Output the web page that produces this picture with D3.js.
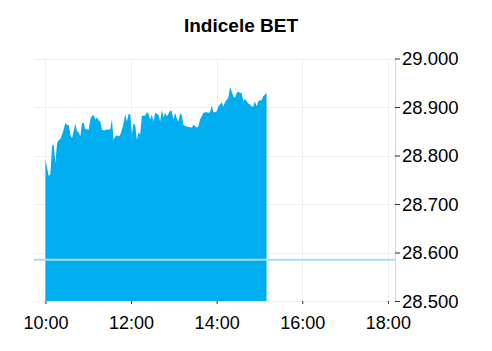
<!DOCTYPE html>
<html><head><meta charset="utf-8">
<script src="https://cdn.jsdelivr.net/npm/d3@7"></script>
<style>html,body{margin:0;padding:0;background:#fff;}svg{display:block;font-family:"Liberation Sans",Arial,sans-serif;}</style>
</head><body><svg id="c" width="492" height="351"></svg>
<script>
const title = "Indicele BET";
const startTime = "10:00";
const endTime = "15:10";
const values = [28792,28775,28757,28763,28820,28822,28784,28826,28832,28834,28843,28854,28867,28863,28863,28843,28836,28850,28866,28850,28848,28839,28867,28867,28854,28854,28853,28874,28882,28883,28874,28879,28872,28870,28853,28852,28852,28854,28853,28854,28874,28832,28839,28842,28839,28843,28853,28867,28885,28870,28885,28886,28843,28866,28863,28832,28848,28843,28882,28882,28882,28889,28886,28874,28884,28870,28888,28886,28884,28870,28894,28879,28888,28881,28886,28893,28891,28874,28888,28877,28870,28886,28884,28863,28861,28860,28859,28859,28857,28863,28861,28857,28861,28874,28881,28888,28889,28889,28888,28889,28903,28889,28889,28891,28901,28905,28910,28901,28910,28915,28919,28941,28932,28922,28919,28929,28932,28929,28929,28912,28917,28912,28907,28905,28901,28901,28912,28901,28912,28914,28914,28922,28926,28929];
const previousClose = 28585;
const yTicks = [28500,28600,28700,28800,28900,29000];
const xTickLabels = ["10:00","12:00","14:00","16:00","18:00"];
const xDomain = ["09:44","18:10"];

const parse = d3.timeParse("%H:%M");
const t0 = parse(startTime), t1 = parse(endTime);
const n = values.length;
const data = values.map((v,i)=>({t:new Date(+t0 + (t1-t0)*i/(n-1)), v}));

const svg = d3.select("#c");
const L=34, R=395, T=58.5, B=301;
const x = d3.scaleTime().domain(xDomain.map(parse)).range([L,R]);
const y = d3.scaleLinear().domain([28500,29000]).range([B,T]);
const fmt = v => d3.format(",.3f")(v/1000).replace(",",".");

// gridlines
svg.append("g").selectAll("line").data(yTicks).join("line")
  .attr("x1",L).attr("x2",R).attr("y1",d=>Math.round(y(d))+0.5).attr("y2",d=>Math.round(y(d))+0.5)
  .attr("stroke","#f0f0f0").attr("stroke-width",1);
svg.append("g").selectAll("line").data(xTickLabels).join("line")
  .attr("x1",d=>Math.round(x(parse(d)))+0.5).attr("x2",d=>Math.round(x(parse(d)))+0.5)
  .attr("y1",T).attr("y2",B).attr("stroke","#f0f0f0").attr("stroke-width",1);

// area
const area = d3.area().x(d=>x(d.t)).y0(y(28500)).y1(d=>y(d.v));
svg.append("path").datum(data).attr("d",area).attr("fill","#00adef");

// previous close line
svg.append("line").attr("x1",L).attr("x2",R).attr("y1",y(previousClose)).attr("y2",y(previousClose))
  .attr("stroke","#a6dcf6").attr("stroke-width",2);

// right axis line
svg.append("line").attr("x1",R+0.5).attr("x2",R+0.5).attr("y1",T).attr("y2",B)
  .attr("stroke","#ccd6eb").attr("stroke-width",1);

// y axis
const ya = d3.axisRight(y).tickValues(yTicks).tickSize(5).tickPadding(2).tickFormat(fmt);
const gy = svg.append("g").attr("transform",`translate(${R},0)`).call(ya);
gy.select(".domain").remove();
gy.selectAll(".tick line").attr("stroke","#333");
gy.selectAll("text").attr("font-size","18.5px").attr("fill","#000").attr("font-family","Liberation Sans, Arial, sans-serif").attr("dy","0.35em");

// x axis
const xa = d3.axisBottom(x).tickValues(xTickLabels.map(parse)).tickSize(3).tickPadding(12).tickFormat(d3.timeFormat("%H:%M"));
const gx = svg.append("g").attr("transform",`translate(0,${B})`).call(xa);
gx.select(".domain").remove();
gx.selectAll(".tick line").attr("stroke","#333");
gx.selectAll("text").attr("font-size","18px").attr("fill","#000").attr("font-family","Liberation Sans, Arial, sans-serif");

// title
svg.append("text").attr("x",241).attr("y",31.5).attr("text-anchor","middle")
  .attr("font-size","19px").attr("font-weight","bold").attr("fill","#000").text(title);
</script></body></html>
